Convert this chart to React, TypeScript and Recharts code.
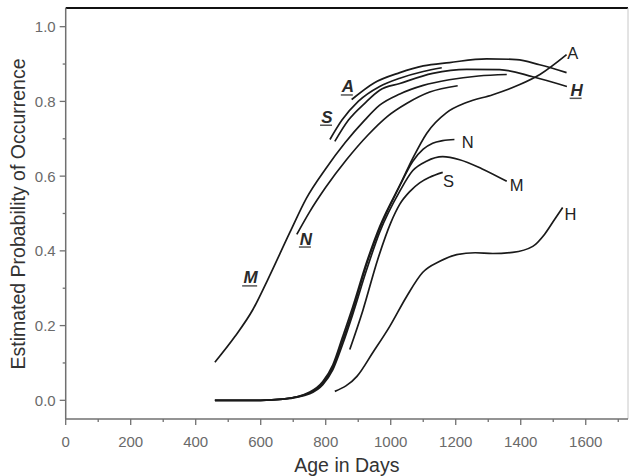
import React from 'react';
import { LineChart, Line, XAxis, YAxis, ReferenceLine, ReferenceDot } from 'recharts';

// ---- Upper group (underlined labels) ----
const ageMU = [459, 520, 576, 620, 690, 740, 800, 860, 920, 966, 1028, 1100, 1180, 1270, 1357];
const probMU = [0.102, 0.17, 0.243, 0.32, 0.45, 0.54, 0.62, 0.69, 0.75, 0.79, 0.82, 0.843, 0.858, 0.868, 0.872];

const ageNU = [711, 751, 800, 865, 930, 990, 1050, 1120, 1206];
const probNU = [0.444, 0.505, 0.57, 0.645, 0.71, 0.76, 0.795, 0.825, 0.842];

const ageSU = [813, 850, 900, 966, 1028, 1100, 1157];
const probSU = [0.698, 0.75, 0.8, 0.84, 0.862, 0.88, 0.89];

const ageHU = [828, 870, 920, 966, 1028, 1129, 1234, 1335, 1437, 1542];
const probHU = [0.693, 0.75, 0.795, 0.83, 0.848, 0.875, 0.886, 0.885, 0.866, 0.84];

const ageAU = [880, 950, 1028, 1100, 1181, 1295, 1387, 1458, 1541];
const probAU = [0.805, 0.85, 0.877, 0.895, 0.904, 0.914, 0.912, 0.898, 0.877];

// ---- Lower group (plain labels) ----
const ageA = [459, 600, 668, 751, 791, 822, 852, 883, 926, 966, 1028, 1068, 1111, 1172, 1233, 1314, 1397, 1459, 1541];
const probA = [0, 0, 0.003, 0.02, 0.045, 0.088, 0.16, 0.24, 0.365, 0.46, 0.575, 0.648, 0.715, 0.77, 0.797, 0.818, 0.845, 0.872, 0.925];

const ageN = [459, 600, 668, 751, 791, 822, 852, 883, 926, 966, 1028, 1068, 1100, 1129, 1160, 1196];
const probN = [0, 0, 0.003, 0.022, 0.05, 0.095, 0.17, 0.25, 0.37, 0.465, 0.575, 0.64, 0.672, 0.688, 0.695, 0.698];

const ageM = [459, 600, 668, 751, 791, 822, 852, 883, 926, 966, 1028, 1068, 1110, 1160, 1212, 1280, 1357];
const probM = [0, 0, 0.003, 0.018, 0.042, 0.082, 0.15, 0.23, 0.35, 0.45, 0.56, 0.615, 0.64, 0.652, 0.644, 0.62, 0.586];

const ageS = [874, 914, 960, 1000, 1028, 1060, 1089, 1120, 1160];
const probS = [0.136, 0.24, 0.377, 0.475, 0.525, 0.56, 0.582, 0.597, 0.61];

const ageH = [828, 896, 945, 997, 1049, 1098, 1151, 1203, 1260, 1314, 1375, 1437, 1473, 1504, 1529];
const probH = [0.024, 0.064, 0.128, 0.198, 0.278, 0.342, 0.372, 0.39, 0.395, 0.393, 0.396, 0.412, 0.444, 0.484, 0.516];

// ---- Curve labels ----
const underLabels = ['A', 'S', 'N', 'M', 'H'];
const underLabelAge = [868, 804, 739, 569, 1572];
const underLabelProb = [0.84, 0.759, 0.433, 0.329, 0.831];

const plainLabels = ['A', 'N', 'M', 'S', 'H'];
const plainLabelAge = [1560, 1237, 1387, 1178, 1553];
const plainLabelProb = [0.93, 0.692, 0.575, 0.588, 0.5];

// ---- Axis ticks ----
const xTicks = [0, 100, 200, 300, 400, 500, 600, 700, 800, 900, 1000, 1100, 1200, 1300, 1400, 1500, 1600, 1700];
const yTicks = [0, 0.1, 0.2, 0.3, 0.4, 0.5, 0.6, 0.7, 0.8, 0.9, 1.0];

const zip = (xs: number[], ys: number[]) => xs.map((x, i) => ({ age: x, prob: ys[i] }));

const series = [
  zip(ageMU, probMU),
  zip(ageNU, probNU),
  zip(ageSU, probSU),
  zip(ageHU, probHU),
  zip(ageAU, probAU),
  zip(ageA, probA),
  zip(ageN, probN),
  zip(ageM, probM),
  zip(ageS, probS),
  zip(ageH, probH),
];

const FONT = "Arial, 'Liberation Sans', Helvetica, sans-serif";
const AXIS_COLOR = '#707070';

const XTick = (props: any) => {
  const { x, y, payload } = props;
  const major = payload.value % 200 === 0;
  return (
    <g>
      <line x1={x} y1={y} x2={x} y2={y + (major ? 6 : 3)} stroke={AXIS_COLOR} strokeWidth={1.3} />
      {major && (
        <text x={x} y={y + 28} textAnchor="middle" fontSize={15} fill="#6a6a6a" fontFamily={FONT}>
          {payload.value}
        </text>
      )}
    </g>
  );
};

const YTick = (props: any) => {
  const { x, y, payload } = props;
  const major = Math.round(payload.value * 10) % 2 === 0;
  return (
    <g>
      <line x1={x} y1={y} x2={x - (major ? 6 : 3)} y2={y} stroke={AXIS_COLOR} strokeWidth={1.3} />
      {major && (
        <text x={x - 10} y={y + 5.5} textAnchor="end" fontSize={15} fill="#6a6a6a" fontFamily={FONT}>
          {payload.value.toFixed(1)}
        </text>
      )}
    </g>
  );
};

const UnderLabel = (text: string) => (props: any) => {
  const { cx, cy } = props;
  const w = text === 'M' ? 15 : 12;
  return (
    <g>
      <text x={cx} y={cy + 6} textAnchor="middle" fontSize={17} fontStyle="italic" fontWeight="bold" fill="#2a2a2a" fontFamily={FONT}>
        {text}
      </text>
      <line x1={cx - w / 2 - 1} y1={cy + 8.5} x2={cx + w / 2 - 1} y2={cy + 8.5} stroke="#555" strokeWidth={1.5} />
    </g>
  );
};

const PlainLabel = (text: string) => (props: any) => {
  const { cx, cy } = props;
  return (
    <text x={cx} y={cy + 6} textAnchor="middle" fontSize={16.5} fill="#222" fontFamily={FONT}>
      {text}
    </text>
  );
};

export default function App() {
  return (
    <div style={{ position: 'absolute', left: 0, top: 0, width: 629, height: 476, background: '#fff' }}>
      <LineChart width={629} height={476} margin={{ top: 8, right: 1, bottom: 0, left: 0 }}>
        <XAxis
          type="number"
          dataKey="age"
          domain={[0, 1730]}
          ticks={xTicks}
          interval={0}
          tickSize={0}
          tickMargin={0}
          tick={<XTick />}
          height={57}
          axisLine={{ stroke: AXIS_COLOR, strokeWidth: 1.5 }}
          allowDataOverflow
          label={(p: any) => {
            const vb = p.viewBox;
            return (
              <text x={vb.x + vb.width / 2} y={472} textAnchor="middle" fontSize={19.5} fill="#333" fontFamily={FONT}>
                Age in Days
              </text>
            );
          }}
        />
        <YAxis
          type="number"
          domain={[-0.05, 1.05]}
          ticks={yTicks}
          interval={0}
          tickSize={0}
          tickMargin={0}
          tick={<YTick />}
          width={65.7}
          axisLine={{ stroke: AXIS_COLOR, strokeWidth: 1.5 }}
          allowDataOverflow
          label={() => {
            const cy = 214;
            return (
              <text x={18} y={cy} transform={`rotate(-90, 18, ${cy})`} textAnchor="middle" dominantBaseline="central" fontSize={19.5} fill="#333" fontFamily={FONT}>
                Estimated Probability of Occurrence
              </text>
            );
          }}
        />
        <ReferenceLine y={1.05} stroke="#111" strokeWidth={2.2} />
        <ReferenceLine x={1730} stroke="#c8c8c8" strokeWidth={1} />
        {series.map((d, i) => (
          <Line
            key={i}
            data={d}
            dataKey="prob"
            type="monotone"
            stroke="#1a1a1a"
            strokeWidth={1.7}
            dot={false}
            activeDot={false}
            isAnimationActive={false}
          />
        ))}
        {underLabels.map((t, i) => (
          <ReferenceDot key={'u' + i} x={underLabelAge[i]} y={underLabelProb[i]} r={0} shape={UnderLabel(t)} />
        ))}
        {plainLabels.map((t, i) => (
          <ReferenceDot key={'p' + i} x={plainLabelAge[i]} y={plainLabelProb[i]} r={0} shape={PlainLabel(t)} />
        ))}
      </LineChart>
    </div>
  );
}
